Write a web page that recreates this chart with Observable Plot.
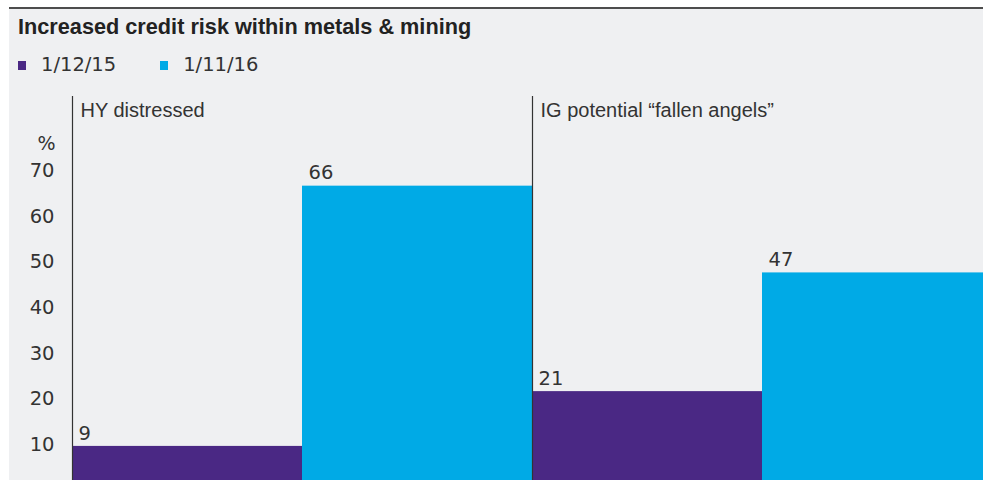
<!DOCTYPE html>
<html>
<head>
<meta charset="utf-8">
<script src="https://cdn.jsdelivr.net/npm/d3@7"></script>
<script src="https://cdn.jsdelivr.net/npm/@observablehq/plot@0.6"></script>
<style>
  html, body { margin: 0; padding: 0; background: #ffffff; }
  body { width: 983px; height: 480px; position: relative; overflow: hidden; }
  #frame { position: absolute; left: 9px; top: 7px; width: 974px; height: 473px;
           background: #eff0f2; border-top: 2px solid #4d4d4d; box-sizing: border-box; }
  #title { position: absolute; left: 18px; top: 15px; font: 700 21.7px "Liberation Sans", Arial, sans-serif;
           color: #222; line-height: 24px; white-space: nowrap; }
  #legend { position: absolute; left: 18px; top: 53px; display: flex; align-items: center;
            font: 19.5px "DejaVu Sans", sans-serif; color: #333; line-height: 24px; }
  .item { display: flex; align-items: center; margin-right: 44px; }
  .sw { width: 8px; height: 9px; margin-right: 15px; }
  #chart { position: absolute; left: 0; top: 90px; }
  #chart svg { background: transparent; overflow: hidden; }
</style>
</head>
<body>
<div id="frame"></div>
<div id="title"></div>
<div id="legend"></div>
<div id="chart"></div>
<script>
const title = "Increased credit risk within metals & mining";
const groups = ["HY distressed", "IG potential “fallen angels”"];
const dates = ["1/12/15", "1/11/16"];
const hyValues = [9, 66];
const igValues = [21, 47];
const yTicks = [10, 20, 30, 40, 50, 60, 70];
const colors = ["#4a2884", "#00aae6"];

const seriesByGroup = [hyValues, igValues];
const rows = groups.flatMap((g, gi) => dates.map((d, di) => ({
  group: g, date: d, value: seriesByGroup[gi][di],
  x1: gi + di / 2, x2: gi + (di + 1) / 2
})));
const groupRows = groups.map((g, gi) => ({group: g, x0: gi}));

document.getElementById("title").textContent = title;
const legend = document.getElementById("legend");
dates.forEach((d, i) => {
  const item = document.createElement("div");
  item.className = "item";
  const sw = document.createElement("div");
  sw.className = "sw";
  sw.style.background = colors[i];
  const lab = document.createElement("span");
  lab.textContent = d;
  item.appendChild(sw); item.appendChild(lab);
  legend.appendChild(item);
});

const numFont = "DejaVu Sans, sans-serif";
const txtFont = "Liberation Sans, Arial, sans-serif";

const chart = Plot.plot({
  width: 983,
  height: 390,
  marginLeft: 72,
  marginRight: 0,
  marginTop: 0,
  marginBottom: 0,
  style: {background: "transparent", color: "#333", fontFamily: numFont},
  x: {domain: [0, 2], range: [72, 992], axis: null},
  y: {domain: [0, 70], range: [397, 77.4], axis: null},
  color: {domain: dates, range: colors},
  marks: [
    Plot.rectY(rows, {x1: "x1", x2: "x2", y: "value", fill: "date"}),
    Plot.ruleX(groupRows, {x: "x0", insetTop: 6, stroke: "#333", strokeWidth: 1.2}),
    Plot.axisY(yTicks, {tickSize: 0, tickPadding: 18, dy: 3, fontSize: 19.5, fontFamily: numFont, label: null, fill: "#333"}),
    Plot.text(["%"], {frameAnchor: "top-left", text: d => d, dx: -17, dy: 53, textAnchor: "end", lineAnchor: "middle", fontSize: 19, fontFamily: numFont, fill: "#333"}),
    Plot.text(groupRows, {x: "x0", text: "group", frameAnchor: "top", textAnchor: "start", lineAnchor: "middle", dx: 8, dy: 20, fontSize: 20, fontFamily: txtFont, fill: "#333"}),
    Plot.text(rows, {x: "x1", y: "value", text: d => String(d.value), textAnchor: "start", lineAnchor: "middle", dx: 6, dy: -13, fontSize: 19.5, fontFamily: numFont, fill: "#333"})
  ]
});
document.getElementById("chart").appendChild(chart);
</script>
</body>
</html>
